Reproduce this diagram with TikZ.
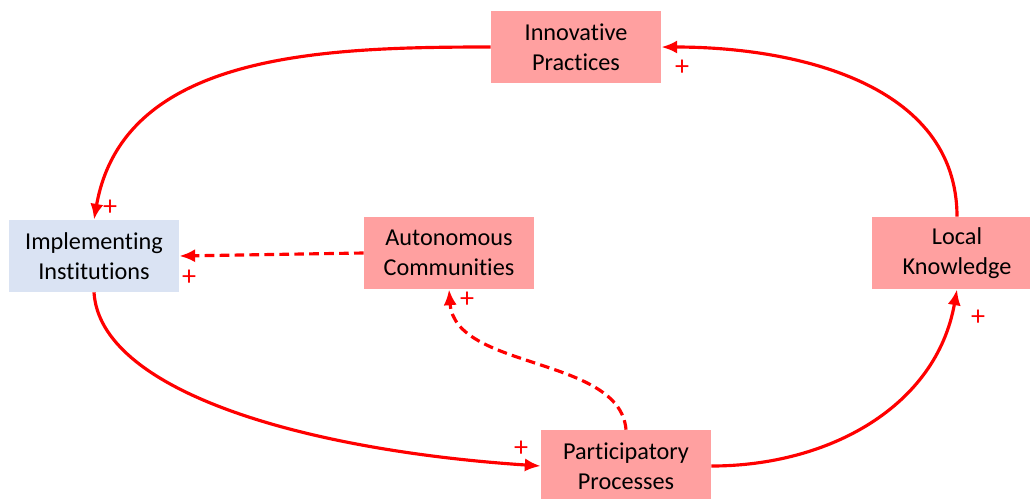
\documentclass[tikz,border=0pt]{standalone}
\usepackage{fontspec}
\setmainfont{Carlito}[Ligatures=NoCommon]
\usetikzlibrary{arrows.meta,calc}

\tikzset{
  factor/.style={draw=none,fill=pinkbox,minimum width=3.4cm,minimum height=1.44cm,
    align=center,inner sep=0pt,font=\fontsize{13.8}{17}\selectfont},
  inst/.style={factor,fill=bluebox},
  link/.style={draw=red,line width=1.8pt,-{Latex[length=9pt,width=7.5pt]}},
  weak/.style={link,dash pattern=on 5.5pt off 3pt},
  sign/.style={text=red,font=\fontsize{16}{16}\selectfont,inner sep=0pt}
}
\definecolor{pinkbox}{RGB}{255,160,160}
\definecolor{bluebox}{RGB}{218,227,243}

\begin{document}
\begin{tikzpicture}[x=0.02cm,y=-0.02cm]
    \useasboundingbox (0,0) rectangle (1030,498);

    % the five factors
    \node[factor] (practices) at (576,47) {Innovative\\Practices};
    \node[inst] (institutions) at (94,256) {Implementing\\Institutions};
    \node[factor] (communities) at (449,253) {Autonomous\\Communities};
    \node[factor] (knowledge) at (957,253) {Local\\Knowledge};
    \node[factor] (processes) at (626,466) {Participatory\\Processes};

    % outer loop
    \draw[link] (practices.west) to[out=180,in=80] (institutions.north);
    \draw[link] (institutions.south) .. controls (100,390) and (300,450) .. (processes.west);
    \draw[link] (processes.east) to[out=0,in=-100] (knowledge.south);
    \draw[link] (knowledge.north) to[out=90,in=0] (practices.east);

    % inner dashed links
    \draw[weak] (communities.west) -- (institutions.east);
    \draw[weak] (processes.north) .. controls (620,356) and (455,370) .. (communities.south);

    % polarities
    \node[sign] (p1) at (682,68) {+};
    \node[sign] (p2) at (110,208) {+};
    \node[sign] (p3) at (189,278) {+};
    \node[sign] (p4) at (467,300) {+};
    \node[sign] (p5) at (521,449) {+};
    \node[sign] (p6) at (978,318) {+};
\end{tikzpicture}
\end{document}
